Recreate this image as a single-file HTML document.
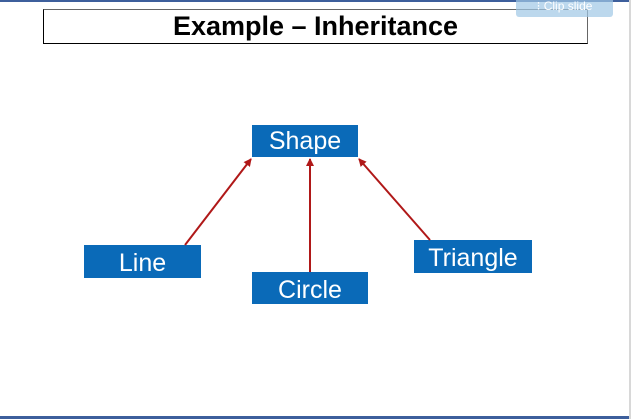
<!DOCTYPE html>
<html><head><meta charset="utf-8"><style>
body{margin:0;width:631px;height:419px;background:#fff;position:relative;overflow:hidden;font-family:"Liberation Sans",sans-serif}
.b{position:absolute;background:#0a6ab8;color:#fff;font-size:25px;text-align:center;line-height:32px}
</style></head><body>
<div style="position:absolute;left:0;top:0;width:631px;height:2px;background:#3d5f9c"></div>
<div style="position:absolute;left:0;top:416px;width:631px;height:3px;background:#3d5f9c"></div>
<div style="position:absolute;left:629px;top:0;width:2px;height:419px;background:#d8d8d8"></div>
<div style="position:absolute;left:43px;top:9px;width:543px;height:33px;border:1px solid #000;border-top-color:#666;border-right-color:#666"></div>
<div style="position:absolute;left:43px;top:9px;width:545px;height:34px;text-align:center;font-weight:bold;font-size:27px;line-height:34px;letter-spacing:0px;color:#000">Example – Inheritance</div>
<div style="position:absolute;left:516px;top:0;width:97px;height:17px;background:rgba(160,200,230,0.7);border-radius:0 0 3px 3px;color:#fff;font-size:12px;line-height:12px;text-align:center">⁝ Clip slide</div>
<div class="b" style="left:252px;top:125px;width:106px;height:32px">Shape</div>
<div class="b" style="left:84px;top:245px;width:117px;height:33px;line-height:36px">Line</div>
<div class="b" style="left:252px;top:272px;width:116px;height:32px;line-height:36px">Circle</div>
<div class="b" style="left:414px;top:240px;width:118px;height:33px;line-height:36px">Triangle</div>
<svg width="631" height="419" style="position:absolute;left:0;top:0">
<defs><marker id="a" markerWidth="8" markerHeight="8" refX="7" refY="4" orient="auto" markerUnits="userSpaceOnUse"><path d="M0,0 L8,4 L0,8z" fill="#b01818"/></marker></defs>
<g stroke="#b01818" stroke-width="2" marker-end="url(#a)">
<line x1="185" y1="245" x2="251" y2="159"/>
<line x1="310" y1="272" x2="310" y2="159"/>
<line x1="430" y1="240" x2="359" y2="159"/>
</g></svg>
</body></html>
